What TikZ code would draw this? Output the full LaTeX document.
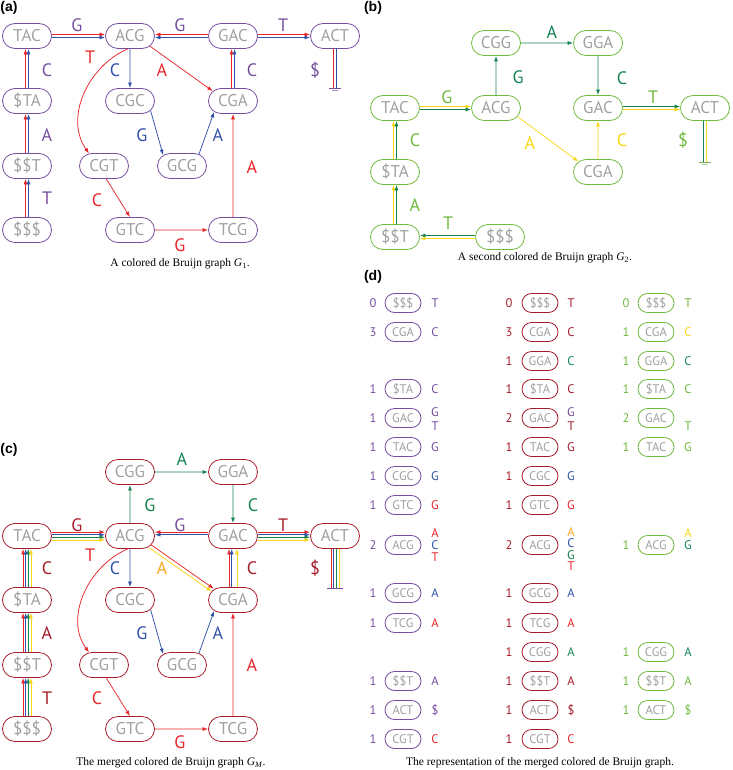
\documentclass[tikz,border=0pt]{standalone}
\usepackage{fontspec}
\setmainfont{Liberation Serif}
\newfontfamily\graphfont{PT Sans}
\newfontfamily\panelfont{Liberation Sans}
\usetikzlibrary{arrows.meta,shapes.misc}

\definecolor{purp}{RGB}{118,78,160}
\definecolor{red1}{RGB}{232,38,42}
\definecolor{dred}{RGB}{165,28,42}
\definecolor{blue1}{RGB}{48,82,168}
\definecolor{dgreen}{RGB}{22,132,82}
\definecolor{lgreen}{RGB}{112,186,62}
\definecolor{yell}{RGB}{248,214,24}
\definecolor{orng}{RGB}{246,168,30}
\definecolor{ktext}{RGB}{160,160,160}

\tikzset{
  kmer/.style={rounded rectangle, line width=0.8pt, minimum width=51pt, minimum height=25pt,
    inner sep=1pt, text=ktext, font=\graphfont\fontsize{17}{17}\selectfont},
  smallkmer/.style={kmer, minimum width=38pt, minimum height=19pt,
    font=\graphfont\fontsize{12.5}{12.5}\selectfont},
  arr/.style={line width=0.75pt, -{Latex[length=5.5pt,width=4pt]}},
  gnd/.style={line width=0.75pt},
  lbl/.style={font=\graphfont\fontsize{18}{18}\selectfont, inner sep=0pt},
  dlbl/.style={font=\graphfont\fontsize{12.5}{12.5}\selectfont, inner sep=0pt},
  capt/.style={font=\fontsize{11.5}{14}\selectfont, inner sep=0pt},
  panel/.style={font=\panelfont\bfseries\fontsize{14}{14}\selectfont, inner sep=0pt}
}

\begin{document}
\begin{tikzpicture}[x=1pt,y=-1pt]
\useasboundingbox (0,0) rectangle (732,770);

\node[panel] (pa) at (9,8) {(a)};
\node[kmer,draw=purp] (tacA) at (27,36) {TAC};
\node[kmer,draw=purp] (acgA) at (130,36) {ACG};
\node[kmer,draw=purp] (gacA) at (233,36) {GAC};
\node[kmer,draw=purp] (actA) at (335,36) {ACT};
\node[kmer,draw=purp] (staA) at (27,101) {\$TA};
\node[kmer,draw=purp] (cgcA) at (130,101) {CGC};
\node[kmer,draw=purp] (cgaA) at (233,101) {CGA};
\node[kmer,draw=purp] (sstA) at (27,166) {\$\$T};
\node[kmer,draw=purp] (cgtA) at (104,166) {CGT};
\node[kmer,draw=purp] (gcgA) at (182,166) {GCG};
\node[kmer,draw=purp] (sssA) at (27,230) {\$\$\$};
\node[kmer,draw=purp] (gtcA) at (130,230) {GTC};
\node[kmer,draw=purp] (tcgA) at (233,230) {TCG};
\coordinate (gndA) at (335,88);

\foreach \c/\o in {red1/1.5,blue1/-1.5} {
  \draw[arr,\c] ([yshift=\o pt]tacA.east) -- ([yshift=\o pt]acgA.west);
  \draw[arr,\c] ([yshift=\o pt]gacA.west) -- ([yshift=\o pt]acgA.east);
  \draw[arr,\c] ([yshift=\o pt]gacA.east) -- ([yshift=\o pt]actA.west);
}
\foreach \c/\o in {red1/-1.5,blue1/1.5} {
  \draw[arr,\c] ([xshift=\o pt]sssA.north) -- ([xshift=\o pt]sstA.south);
  \draw[arr,\c] ([xshift=\o pt]sstA.north) -- ([xshift=\o pt]staA.south);
  \draw[arr,\c] ([xshift=\o pt]staA.north) -- ([xshift=\o pt]tacA.south);
  \draw[arr,\c] ([xshift=\o pt]cgaA.north) -- ([xshift=\o pt]gacA.south);
  \draw[gnd,\c] ([xshift=\o pt]actA.south) -- ([xshift=\o pt]gndA);
}
\draw[gnd,purp] ([xshift=-6pt]gndA) -- ([xshift=6pt]gndA);
\draw[gnd,purp!60] ([shift={(-3pt,-2.5pt)}]gndA) -- ([shift={(3pt,-2.5pt)}]gndA);
\draw[arr,blue1] (acgA) -- (cgcA);
\draw[arr,red1] (acgA.-27) -- (cgaA.154);
\draw[arr,blue1] (cgcA.-25) -- (gcgA.150);
\draw[arr,blue1] (gcgA.35) -- (cgaA.210);
\draw[arr,red1] (tcgA) -- (cgaA);
\draw[arr,red1] (gtcA) -- (tcgA);
\draw[arr,red1] (cgtA.-80) -- (gtcA.north);
\draw[arr,red1] (acgA.260) .. controls (88,66) and (64,118) .. (cgtA.140);

\node[lbl,text=purp] (la1) at (77,25) {G};
\node[lbl,text=purp] (la2) at (180,25) {G};
\node[lbl,text=purp] (la3) at (283,25) {T};
\node[lbl,text=purp] (la4) at (315,70) {\$};
\node[lbl,text=purp] (la5) at (47,70) {C};
\node[lbl,text=purp] (la6) at (47,135) {A};
\node[lbl,text=purp] (la7) at (47,198) {T};
\node[lbl,text=red1] (la8) at (90,57) {T};
\node[lbl,text=blue1] (la9) at (115,70) {C};
\node[lbl,text=red1] (la10) at (162,70) {A};
\node[lbl,text=purp] (la11) at (252,70) {C};
\node[lbl,text=blue1] (la12) at (142,135) {G};
\node[lbl,text=blue1] (la13) at (218,135) {A};
\node[lbl,text=red1] (la14) at (252,167) {A};
\node[lbl,text=red1] (la15) at (97,200) {C};
\node[lbl,text=red1] (la16) at (180,245) {G};
\node[capt] (capA) at (180,264) {A colored de Bruijn graph \textit{G}\textsubscript{1}.};

\node[panel] (pb) at (373,8) {(b)};
\node[kmer,draw=lgreen] (cggB) at (496,43) {CGG};
\node[kmer,draw=lgreen] (ggaB) at (598,43) {GGA};
\node[kmer,draw=lgreen] (tacB) at (395,108) {TAC};
\node[kmer,draw=lgreen] (acgB) at (496,108) {ACG};
\node[kmer,draw=lgreen] (gacB) at (598,108) {GAC};
\node[kmer,draw=lgreen] (actB) at (705,108) {ACT};
\node[kmer,draw=lgreen] (staB) at (395,172) {\$TA};
\node[kmer,draw=lgreen] (cgaB) at (598,172) {CGA};
\node[kmer,draw=lgreen] (sstB) at (395,237) {\$\$T};
\node[kmer,draw=lgreen] (sssB) at (500,237) {\$\$\$};
\coordinate (gndB) at (705,162);

\foreach \c/\o in {dgreen/1.5,yell/-1.5} {
  \draw[arr,\c] ([yshift=\o pt]sssB.west) -- ([yshift=\o pt]sstB.east);
  \draw[arr,\c] ([yshift=\o pt]gacB.east) -- ([yshift=\o pt]actB.west);
}
\foreach \c/\o in {yell/1.5,dgreen/-1.5}
  \draw[arr,\c] ([yshift=\o pt]tacB.east) -- ([yshift=\o pt]acgB.west);
\foreach \c/\o in {yell/-1.5,dgreen/1.5} {
  \draw[arr,\c] ([xshift=\o pt]sstB.north) -- ([xshift=\o pt]staB.south);
  \draw[arr,\c] ([xshift=\o pt]staB.north) -- ([xshift=\o pt]tacB.south);
}
\foreach \c/\o in {dgreen/-1.5,yell/1.5}
  \draw[gnd,\c] ([xshift=\o pt]actB.south) -- ([xshift=\o pt]gndB);
\draw[gnd,lgreen!70!gray] ([xshift=-6pt]gndB) -- ([xshift=6pt]gndB);
\draw[gnd,lgreen!50] ([shift={(-3pt,-2.5pt)}]gndB) -- ([shift={(3pt,-2.5pt)}]gndB);
\draw[arr,dgreen] (acgB) -- (cggB);
\draw[arr,dgreen] (cggB) -- (ggaB);
\draw[arr,dgreen] (ggaB) -- (gacB);
\draw[arr,yell] (acgB.-22) -- (cgaB.152);
\draw[arr,yell] (cgaB) -- (gacB);

\node[lbl,text=lgreen] (lb1) at (448,223) {T};
\node[lbl,text=lgreen] (lb2) at (415,205) {A};
\node[lbl,text=lgreen] (lb3) at (415,140) {C};
\node[lbl,text=lgreen] (lb4) at (447,97) {G};
\node[lbl,text=dgreen] (lb5) at (518,77) {G};
\node[lbl,text=dgreen] (lb6) at (552,32) {A};
\node[lbl,text=dgreen] (lb7) at (622,78) {C};
\node[lbl,text=yell] (lb8) at (530,143) {A};
\node[lbl,text=yell] (lb9) at (622,140) {C};
\node[lbl,text=lgreen] (lb10) at (653,97) {T};
\node[lbl,text=lgreen] (lb11) at (683,140) {\$};
\node[capt] (capB) at (545,258) {A second colored de Bruijn graph \textit{G}\textsubscript{2}.};

\node[panel] (pc) at (9,450) {(c)};
\node[kmer,draw=dred] (cggC) at (130,472) {CGG};
\node[kmer,draw=dred] (ggaC) at (233,472) {GGA};
\node[kmer,draw=dred] (tacC) at (27,536) {TAC};
\node[kmer,draw=dred] (acgC) at (130,536) {ACG};
\node[kmer,draw=dred] (gacC) at (233,536) {GAC};
\node[kmer,draw=dred] (actC) at (335,536) {ACT};
\node[kmer,draw=dred] (staC) at (27,600) {\$TA};
\node[kmer,draw=dred] (cgcC) at (130,600) {CGC};
\node[kmer,draw=dred] (cgaC) at (233,600) {CGA};
\node[kmer,draw=dred] (sstC) at (27,665) {\$\$T};
\node[kmer,draw=dred] (cgtC) at (104,665) {CGT};
\node[kmer,draw=dred] (gcgC) at (182,665) {GCG};
\node[kmer,draw=dred] (sssC) at (27,729) {\$\$\$};
\node[kmer,draw=dred] (gtcC) at (130,729) {GTC};
\node[kmer,draw=dred] (tcgC) at (233,729) {TCG};
\coordinate (gndC) at (335,588);

\foreach \c/\o in {red1/3.9,blue1/1.3,dgreen/-1.3,yell/-3.9} {
  \draw[arr,\c] ([yshift=\o pt]tacC.east) -- ([yshift=\o pt]acgC.west);
  \draw[arr,\c] ([yshift=\o pt]gacC.east) -- ([yshift=\o pt]actC.west);
}
\foreach \c/\o in {red1/3.9,blue1/1.3}
  \draw[arr,\c] ([yshift=\o pt]gacC.west) -- ([yshift=\o pt]acgC.east);
\foreach \c/\o in {red1/-3.9,blue1/-1.3,dgreen/1.3,yell/3.9} {
  \draw[arr,\c] ([xshift=\o pt]sssC.north) -- ([xshift=\o pt]sstC.south);
  \draw[arr,\c] ([xshift=\o pt]sstC.north) -- ([xshift=\o pt]staC.south);
  \draw[arr,\c] ([xshift=\o pt]staC.north) -- ([xshift=\o pt]tacC.south);
  \draw[gnd,\c] ([xshift=\o pt]actC.south) -- ([xshift=\o pt]gndC);
}
\foreach \c/\o in {red1/-3.9,blue1/-1.3,yell/3.9}
  \draw[arr,\c] ([xshift=\o pt]cgaC.north) -- ([xshift=\o pt]gacC.south);
\draw[gnd,purp] ([xshift=-8pt]gndC) -- ([xshift=8pt]gndC);
\draw[arr,red1] ([shift={(1.1pt,1.4pt)}]acgC.-27) -- ([shift={(1.1pt,1.4pt)}]cgaC.154);
\draw[arr,yell] ([shift={(-1.1pt,-1.4pt)}]acgC.-27) -- ([shift={(-1.1pt,-1.4pt)}]cgaC.154);
\draw[arr,dgreen] (acgC) -- (cggC);
\draw[arr,dgreen] (cggC) -- (ggaC);
\draw[arr,dgreen] (ggaC) -- (gacC);
\draw[arr,blue1] (acgC) -- (cgcC);
\draw[arr,blue1] (cgcC.-25) -- (gcgC.150);
\draw[arr,blue1] (gcgC.35) -- (cgaC.210);
\draw[arr,red1] (tcgC) -- (cgaC);
\draw[arr,red1] (gtcC) -- (tcgC);
\draw[arr,red1] (cgtC.-80) -- (gtcC.north);
\draw[arr,red1] (acgC.260) .. controls (88,566) and (64,618) .. (cgtC.140);

\node[lbl,text=dred] (lc1) at (77,525) {G};
\node[lbl,text=red1] (lc2) at (90,555) {T};
\node[lbl,text=purp] (lc3) at (180,525) {G};
\node[lbl,text=dred] (lc4) at (283,525) {T};
\node[lbl,text=dred] (lc5) at (315,568) {\$};
\node[lbl,text=dred] (lc6) at (47,568) {C};
\node[lbl,text=dred] (lc7) at (47,633) {A};
\node[lbl,text=dred] (lc8) at (47,698) {T};
\node[lbl,text=blue1] (lc9) at (115,568) {C};
\node[lbl,text=orng] (lc10) at (162,568) {A};
\node[lbl,text=dred] (lc11) at (252,568) {C};
\node[lbl,text=dgreen] (lc12) at (150,505) {G};
\node[lbl,text=dgreen] (lc13) at (182,459) {A};
\node[lbl,text=dgreen] (lc14) at (253,505) {C};
\node[lbl,text=blue1] (lc15) at (142,633) {G};
\node[lbl,text=blue1] (lc16) at (218,633) {A};
\node[lbl,text=red1] (lc17) at (252,665) {A};
\node[lbl,text=red1] (lc18) at (97,698) {C};
\node[lbl,text=red1] (lc19) at (180,742) {G};
\node[capt] (capC) at (171,763) {The merged colored de Bruijn graph \textit{G}\textsubscript{\textit{M}}.};

\node[panel] (pd) at (373,277) {(d)};
\foreach \y/\n/\k in {303/0/\$\$\$,332/3/CGA,389/1/\$TA,418/1/GAC,447/1/TAC,476/1/CGC,505/1/GTC,
    545/2/ACG,593/1/GCG,623/1/TCG,681/1/\$\$T,710/1/ACT,739/1/CGT} {
  \node[smallkmer,draw=purp] (u\y) at (403,\y) {\k};
  \node[dlbl,text=purp] (un\y) at (373,\y) {\n};
}
\foreach \y/\c/\l in {303/purp/T,332/purp/C,389/purp/C,412/purp/G,426/purp/T,447/purp/G,
    476/blue1/G,505/red1/G,533/red1/A,545/blue1/C,557/red1/T,593/blue1/A,623/red1/A,
    681/purp/A,710/purp/\$,739/red1/C}
  \node[dlbl,text=\c] (ul\y) at (435,\y) {\l};

\foreach \y/\n/\k in {303/0/\$\$\$,332/3/CGA,361/1/GGA,389/1/\$TA,418/2/GAC,447/1/TAC,476/1/CGC,
    505/1/GTC,545/2/ACG,593/1/GCG,623/1/TCG,652/1/CGG,681/1/\$\$T,710/1/ACT,739/1/CGT} {
  \node[smallkmer,draw=dred] (m\y) at (540,\y) {\k};
  \node[dlbl,text=dred] (mn\y) at (509,\y) {\n};
}
\foreach \y/\c/\l in {303/dred/T,332/dred/C,361/dgreen/C,389/dred/C,412/purp/G,426/dred/T,
    447/dred/G,476/blue1/G,505/red1/G,532/orng/A,543.5/blue1/C,555/dgreen/G,566.5/red1/T,
    593/blue1/A,623/red1/A,652/dgreen/A,681/dred/A,710/dred/\$,739/red1/C}
  \node[dlbl,text=\c] (ml\y) at (571,\y) {\l};

\foreach \y/\n/\k in {303/0/\$\$\$,332/1/CGA,361/1/GGA,389/1/\$TA,418/2/GAC,447/1/TAC,
    545/1/ACG,652/1/CGG,681/1/\$\$T,710/1/ACT} {
  \node[smallkmer,draw=lgreen] (w\y) at (656,\y) {\k};
  \node[dlbl,text=lgreen] (wn\y) at (626,\y) {\n};
}
\foreach \y/\c/\l in {303/lgreen/T,332/yell/C,361/dgreen/C,389/lgreen/C,426/lgreen/T,
    447/lgreen/G,533/yell/A,545/dgreen/G,652/dgreen/A,681/lgreen/A,710/lgreen/\$}
  \node[dlbl,text=\c] (wl\y) at (688,\y) {\l};
\node[capt] (capD) at (540,763) {The representation of the merged colored de Bruijn graph.};
\end{tikzpicture}
\end{document}
